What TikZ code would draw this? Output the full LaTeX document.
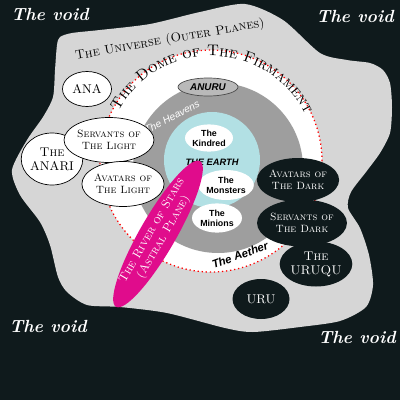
\documentclass[tikz,border=0pt]{standalone}
\usepackage{fontspec}
\newfontfamily\sans{Liberation Sans}
\usetikzlibrary{shapes.geometric,decorations.text}
\definecolor{voidc}{RGB}{15,26,28}
\definecolor{marble}{RGB}{214,214,214}
\definecolor{ringgrey}{RGB}{158,158,158}
\definecolor{earthblue}{RGB}{178,224,228}
\definecolor{riverm}{RGB}{224,12,140}
\definecolor{anurug}{RGB}{185,185,185}
\tikzset{
  whiteell/.style={ellipse, draw=black, line width=0.5pt, fill=white, inner sep=0pt, align=center, font=\fontsize{7.5}{8.5}\selectfont\scshape},
  darkell/.style={ellipse, fill=voidc, inner sep=0pt, align=center, text=white, font=\fontsize{7.5}{8.5}\selectfont\scshape},
  earthell/.style={ellipse, fill=white, inner sep=0pt, align=center, font=\sans\bfseries\fontsize{6.3}{7.2}\selectfont},
  voidlbl/.style={text=white, font=\fontsize{12.5}{13}\selectfont\itshape\bfseries},
}
\begin{document}
\begin{tikzpicture}[x=0.25mm,y=0.25mm]
\useasboundingbox (0,0) rectangle (400,-400);
\fill[voidc] (0,0) rectangle (400,-400);
% marble blob
\fill[marble] plot[smooth cycle, tension=0.45] coordinates {
 (60,-37) (72,-33) (100,-30) (150,-24) (200,-12) (245,-4) (283,-20) (320,-53)
 (347,-60) (370,-63) (383,-70) (390,-83) (392,-107) (390,-133) (380,-153)
 (366,-172) (351,-192) (348,-208) (360,-228) (369,-255) (373,-285) (366,-307)
 (340,-321) (300,-327) (253,-332) (225,-328) (167,-313) (120,-307) (87,-305)
 (67,-292) (58,-277) (50,-245) (40,-222) (20,-195) (12,-170) (27,-140)
 (43,-117) (53,-97) (55,-70) (57,-45)};
% the void labels
\node[voidlbl] (v1) at (50,-14) {The void};
\node[voidlbl] (v2) at (355,-16) {The void};
\node[voidlbl] (v3) at (48,-326) {The void};
\node[voidlbl] (v4) at (357,-337) {The void};
% universe label
\node[rotate=10, font=\fontsize{9}{10}\selectfont\scshape] (univ) at (170,-40) {The Universe (Outer Planes)};
% dome
\coordinate (domec) at (211,-161);
\draw[red, dotted, line width=0.9pt, fill=white] (domec) circle[radius=111];
\path[decorate, decoration={text along path, text align=center,
  text={|\fontsize{11}{11}\selectfont\scshape|The Dome of The Firmament}}]
  ([shift={(158:105)}]domec) arc[start angle=158, end angle=20, radius=105];
% heavens
\fill[ringgrey] (218,-168) circle[radius=85];
\fill[earthblue] (212,-160) circle[radius=48];
\node[earthell, minimum width=12mm, minimum height=6.8mm] (kindred) at (209,-138) {The\\Kindred};
\node[font=\sans\bfseries\itshape\fontsize{6.6}{7}\selectfont] (earth) at (212,-162) {THE EARTH};
\node[earthell, minimum width=13mm, minimum height=7.5mm] (monsters) at (226,-185) {The\\Monsters};
\node[earthell, minimum width=12.5mm, minimum height=7.3mm] (minions) at (217,-218) {The\\Minions};
\node[ellipse, draw=black!70, line width=0.5pt, fill=anurug, minimum width=15mm, minimum height=4.5mm, inner sep=0pt, font=\sans\bfseries\itshape\fontsize{7}{7}\selectfont] (anuru) at (208,-87) {ANURU};
\node[rotate=27, text=white, font=\sans\itshape\fontsize{7.2}{7.2}\selectfont] (heavens) at (172,-117) {The Heavens};
\node[rotate=20, font=\sans\bfseries\itshape\fontsize{8}{8}\selectfont] (aether) at (240,-255) {The Aether};
% left ellipses
\node[whiteell, minimum width=12.25mm, minimum height=8.75mm, font=\fontsize{9}{9}\selectfont] (ana) at (87,-89) {ANA};
\node[whiteell, minimum width=15.25mm, minimum height=13mm, font=\fontsize{9}{10}\selectfont] (anari) at (52,-159) {{\scshape The}\\ANARI};
\node[whiteell, minimum width=18mm, minimum height=11.25mm] (servl) at (109,-140) {Servants of\\The Light};
\node[whiteell, minimum width=15.75mm, minimum height=11.25mm] (avatl) at (123,-184) {Avatars of\\The Light};
% right dark ellipses
\node[darkell, minimum width=15.75mm, minimum height=11mm] (avatd) at (298,-180) {Avatars of\\The Dark};
\node[darkell, minimum width=17.5mm, minimum height=11.75mm] (servd) at (302,-223) {Servants of\\The Dark};
\node[darkell, minimum width=15.75mm, minimum height=11.25mm, font=\fontsize{9}{10}\selectfont\scshape] (uruqu) at (316,-264) {The\\URUQU};
\node[darkell, minimum width=14.25mm, minimum height=10mm, font=\fontsize{9}{9}\selectfont] (uru) at (261,-299) {URU};
% river of stars
\node[ellipse, fill=riverm, rotate=60, minimum width=35.25mm, minimum height=9mm, inner sep=0pt, align=center, text=white, font=\fontsize{8.5}{9.5}\selectfont\scshape] (river) at (158,-234) {The River of Stars\\(Astral Plane)};
\end{tikzpicture}
\end{document}
